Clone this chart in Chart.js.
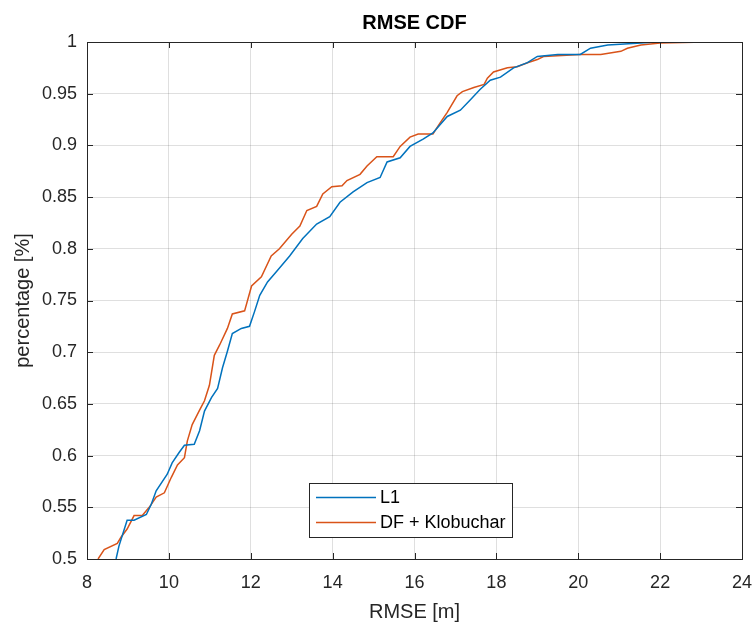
<!DOCTYPE html>
<html>
<head>
<meta charset="utf-8">
<script src="https://cdn.jsdelivr.net/npm/chart.js@4.4.1/dist/chart.umd.min.js"></script>
<style>
  body { margin: 0; background: #fff; }
  canvas { display: block; }
</style>
</head>
<body>
<canvas id="cdf" width="754" height="622"></canvas>
<script>
// CDF curves
const l1X = [8.71, 8.78, 8.98, 9.15, 9.45, 9.57, 9.69, 9.96, 10.08, 10.25, 10.38, 10.62, 10.75, 10.87, 11.04, 11.19, 11.31, 11.43, 11.55, 11.77, 11.97, 12.09, 12.22, 12.41, 12.63, 12.95, 13.27, 13.61, 13.93, 14.18, 14.5, 14.84, 15.16, 15.33, 15.65, 15.89, 16.21, 16.45, 16.8, 17.12, 17.36, 17.6, 17.85, 18.1, 18.42, 18.76, 19.0, 19.5, 20.05, 20.3, 20.72, 21.53, 21.9];
const l1Y = [0.5, 0.5125, 0.5375, 0.5375, 0.543, 0.553, 0.566, 0.582, 0.593, 0.603, 0.61, 0.611, 0.624, 0.643, 0.656, 0.665, 0.685, 0.701, 0.718, 0.723, 0.725, 0.739, 0.755, 0.768, 0.778, 0.793, 0.81, 0.824, 0.831, 0.845, 0.855, 0.864, 0.869, 0.884, 0.888, 0.899, 0.906, 0.912, 0.928, 0.934, 0.944, 0.954, 0.963, 0.966, 0.975, 0.98, 0.986, 0.988, 0.988, 0.994, 0.997, 0.999, 1.0];

const dfX = [8.27, 8.42, 8.74, 8.83, 8.98, 9.15, 9.35, 9.52, 9.69, 9.89, 10.06, 10.21, 10.38, 10.45, 10.57, 10.75, 10.87, 10.99, 11.11, 11.24, 11.43, 11.55, 11.85, 12.02, 12.26, 12.5, 12.7, 13.0, 13.2, 13.37, 13.61, 13.76, 13.98, 14.23, 14.35, 14.67, 14.84, 15.08, 15.48, 15.65, 15.89, 16.09, 16.45, 16.63, 16.8, 17.04, 17.17, 17.45, 17.7, 17.78, 17.93, 18.27, 18.51, 18.76, 19.0, 19.15, 20.05, 20.55, 21.04, 21.2, 21.53, 22.0, 23.1];
const dfY = [0.5, 0.509, 0.515, 0.521, 0.529, 0.542, 0.542, 0.55, 0.56, 0.564, 0.579, 0.591, 0.598, 0.614, 0.63, 0.644, 0.653, 0.668, 0.697, 0.707, 0.723, 0.737, 0.74, 0.764, 0.773, 0.793, 0.8, 0.814, 0.822, 0.837, 0.841, 0.853, 0.86, 0.861, 0.866, 0.872, 0.88, 0.889, 0.889, 0.899, 0.908, 0.911, 0.911, 0.922, 0.932, 0.948, 0.952, 0.956, 0.959, 0.965, 0.971, 0.975, 0.976, 0.98, 0.983, 0.986, 0.988, 0.988, 0.991, 0.994, 0.997, 0.999, 1.0];

const seriesNames = ["L1", "DF + Klobuchar"];
const xTicks = [8, 10, 12, 14, 16, 18, 20, 22, 24];
const yTicks = [0.5, 0.55, 0.6, 0.65, 0.7, 0.75, 0.8, 0.85, 0.9, 0.95, 1];

const FONT = "'Liberation Sans', Arial, Helvetica, sans-serif";
const INK = "#262626";

const pts = (xs, ys) => xs.map((x, i) => ({ x, y: ys[i] }));

// box, inward ticks, title, axis titles, legend
const matlabDecor = {
  id: "matlabDecor",
  afterDraw(chart) {
    const { ctx, chartArea: a, scales } = chart;
    ctx.save();
    ctx.strokeStyle = INK;
    ctx.lineWidth = 1;
    ctx.beginPath();
    xTicks.forEach(t => {
      const px = Math.round(scales.x.getPixelForValue(t)) + 0.5;
      ctx.moveTo(px, a.bottom); ctx.lineTo(px, a.bottom - 6);
      ctx.moveTo(px, a.top); ctx.lineTo(px, a.top + 6);
    });
    yTicks.forEach(t => {
      const py = Math.round(scales.y.getPixelForValue(t)) + 0.5;
      ctx.moveTo(a.left, py); ctx.lineTo(a.left + 6, py);
      ctx.moveTo(a.right, py); ctx.lineTo(a.right - 6, py);
    });
    ctx.stroke();
    ctx.strokeRect(Math.round(a.left) + 0.5, Math.round(a.top) + 0.5,
      Math.round(a.right - a.left), Math.round(a.bottom - a.top));

    const cx = (a.left + a.right) / 2;
    ctx.fillStyle = "#000";
    ctx.textAlign = "center";
    ctx.textBaseline = "alphabetic";
    ctx.font = "bold 20px " + FONT;
    ctx.fillText("RMSE CDF", cx, 29);

    ctx.fillStyle = INK;
    ctx.font = "20px " + FONT;
    ctx.fillText("RMSE [m]", cx, 618);
    ctx.save();
    ctx.translate(29, (a.top + a.bottom) / 2);
    ctx.rotate(-Math.PI / 2);
    ctx.fillText("percentage [%]", 0, 0);
    ctx.restore();

    // legend
    const lx = 309, ly = 483, lw = 203, lh = 54;
    ctx.fillStyle = "#fff";
    ctx.fillRect(lx, ly, lw, lh);
    ctx.strokeStyle = INK;
    ctx.strokeRect(lx + 0.5, ly + 0.5, lw, lh);
    ctx.font = "18px " + FONT;
    ctx.textAlign = "left";
    ctx.textBaseline = "middle";
    chart.data.datasets.forEach((ds, i) => {
      const y = ly + 14.5 + i * 25;
      ctx.strokeStyle = ds.borderColor;
      ctx.lineWidth = 1.5;
      ctx.beginPath();
      ctx.moveTo(lx + 7, y); ctx.lineTo(lx + 67, y);
      ctx.stroke();
      ctx.fillStyle = "#000";
      ctx.fillText(ds.label, lx + 71, y + 1);
    });
    ctx.restore();
  }
};

new Chart(document.getElementById("cdf"), {
  type: "line",
  data: {
    datasets: [
      { label: seriesNames[0], data: pts(l1X, l1Y), borderColor: "#0072BD", borderWidth: 1.5, pointRadius: 0, tension: 0, fill: false },
      { label: seriesNames[1], data: pts(dfX, dfY), borderColor: "#D95319", borderWidth: 1.5, pointRadius: 0, tension: 0, fill: false }
    ]
  },
  options: {
    responsive: false,
    animation: false,
    layout: { padding: { top: 42, right: 12, left: 0, bottom: 0 } },
    plugins: { legend: { display: false }, title: { display: false }, tooltip: { enabled: false } },
    scales: {
      x: {
        type: "linear", min: 8, max: 24,
        afterFit: s => { s.height = 63; s.paddingLeft = 0; s.paddingRight = 0; },
        afterBuildTicks: s => { s.ticks = xTicks.map(v => ({ value: v })); },
        ticks: { color: INK, font: { family: FONT, size: 18 }, padding: 13, maxRotation: 0 },
        grid: { color: "rgba(38,38,38,0.15)", drawTicks: false },
        border: { display: false }
      },
      y: {
        type: "linear", min: 0.5, max: 1,
        afterFit: s => { s.width = 87; s.paddingTop = 0; s.paddingBottom = 0; },
        afterBuildTicks: s => { s.ticks = yTicks.map(v => ({ value: v })); },
        ticks: { color: INK, font: { family: FONT, size: 18 }, padding: 10, callback: v => String(parseFloat(Number(v).toFixed(2))) },
        grid: { color: "rgba(38,38,38,0.15)", drawTicks: false },
        border: { display: false }
      }
    }
  },
  plugins: [matlabDecor]
});
</script>
</body>
</html>
